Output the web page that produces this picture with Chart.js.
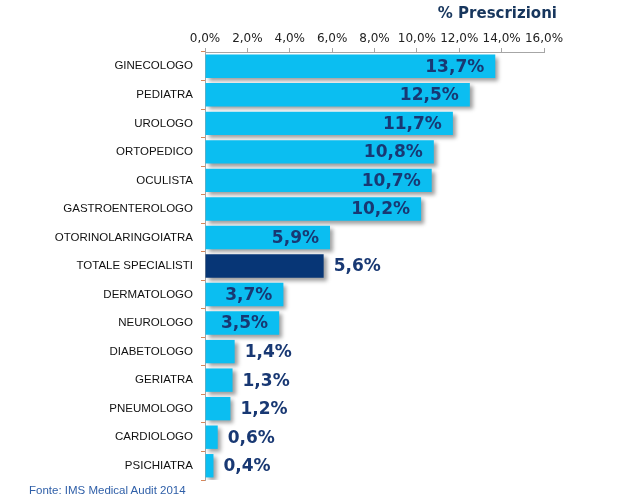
<!DOCTYPE html>
<html lang="it">
<head>
  <meta charset="UTF-8">
  <title>% Prescrizioni per specialista</title>
  <script src="https://cdn.jsdelivr.net/npm/chart.js"></script>
  <style>
    html, body { margin: 0; padding: 0; background: #fff; }
    .wrap { position: relative; width: 633px; height: 501px; }
    #chart { position: absolute; left: 0; top: 0; }
    .title {
      position: absolute; right: 76px; top: 4px;
      font: bold 15px 'DejaVu Sans', sans-serif; color: #17365D;
    }
    .source {
      position: absolute; left: 29px; top: 484px;
      font: 11.5px 'Liberation Sans', Arial, sans-serif; color: #2F5FA8;
    }
  </style>
</head>
<body>
  <div class="wrap">
    <canvas id="chart" width="633" height="501"></canvas>
    <div class="title">% Prescrizioni</div>
    <div class="source">Fonte: IMS Medical Audit 2014</div>
  </div>
  <script>
    // dati
    const categories = ['GINECOLOGO', 'PEDIATRA', 'UROLOGO', 'ORTOPEDICO', 'OCULISTA',
      'GASTROENTEROLOGO', 'OTORINOLARINGOIATRA', 'TOTALE SPECIALISTI', 'DERMATOLOGO',
      'NEUROLOGO', 'DIABETOLOGO', 'GERIATRA', 'PNEUMOLOGO', 'CARDIOLOGO', 'PSICHIATRA'];
    const shares = [13.7, 12.5, 11.7, 10.8, 10.7, 10.2, 5.9, 5.6, 3.7, 3.5, 1.4, 1.3, 1.2, 0.6, 0.4];
    const axisMax = 16;
    const axisStep = 2;
    const totalCategory = 'TOTALE SPECIALISTI';

    const fmt = (v, d) => v.toFixed(d).replace('.', ',') + '%';
    const colors = categories.map(c => c === totalCategory ? '#073676' : '#0BBEF1');

    // ombra sotto le barre + etichette valori
    const barDecor = {
      id: 'barDecor',
      beforeDatasetsDraw(chart) {
        const ctx = chart.ctx;
        ctx.save();
        ctx.shadowColor = 'rgba(0,0,0,0.38)';
        ctx.shadowBlur = 4;
        ctx.shadowOffsetX = 3;
        ctx.shadowOffsetY = 3;
      },
      afterDatasetsDraw(chart) {
        const ctx = chart.ctx;
        ctx.restore();
        ctx.save();
        ctx.font = 'bold 17px "DejaVu Sans", sans-serif';
        ctx.fillStyle = '#183873';
        ctx.textBaseline = 'middle';
        chart.getDatasetMeta(0).data.forEach((bar, i) => {
          const v = shares[i];
          const inside = v >= 3 && categories[i] !== totalCategory;
          if (inside) {
            ctx.textAlign = 'right';
            ctx.fillText(fmt(v, 1), bar.x - 11, bar.y + 1);
          } else {
            ctx.textAlign = 'left';
            ctx.fillText(fmt(v, 1), bar.x + 10, bar.y + 1);
          }
        });
        ctx.restore();
      }
    };

    new Chart(document.getElementById('chart').getContext('2d'), {
      type: 'bar',
      data: {
        labels: categories,
        datasets: [{
          data: shares,
          backgroundColor: colors,
          borderWidth: 0,
          barPercentage: 0.82,
          categoryPercentage: 1
        }]
      },
      options: {
        indexAxis: 'y',
        responsive: false,
        animation: false,
        layout: { padding: { left: 0, right: 89, top: 0, bottom: 21 } },
        plugins: { legend: { display: false }, tooltip: { enabled: false } },
        scales: {
          x: {
            position: 'top',
            min: 0, max: axisMax,
            afterFit(scale) { scale.height = 52; },
            ticks: {
              stepSize: axisStep,
              autoSkip: false,
              maxRotation: 0,
              padding: 2,
              color: '#222',
              font: { family: 'DejaVu Sans', size: 12 },
              callback: v => fmt(v, 1)
            },
            grid: { drawOnChartArea: false, tickLength: 4, color: '#A6A6A6' },
            border: { color: '#A6A6A6' }
          },
          y: {
            afterFit(scale) { scale.width = 205; },
            ticks: {
              padding: 8,
              color: '#111',
              font: { family: 'Liberation Sans', size: 11.5 }
            },
            grid: { drawOnChartArea: false, tickLength: 4, color: '#D9875A', offset: true },
            border: { color: '#A6A6A6' }
          }
        }
      },
      plugins: [barDecor]
    });
  </script>
</body>
</html>
